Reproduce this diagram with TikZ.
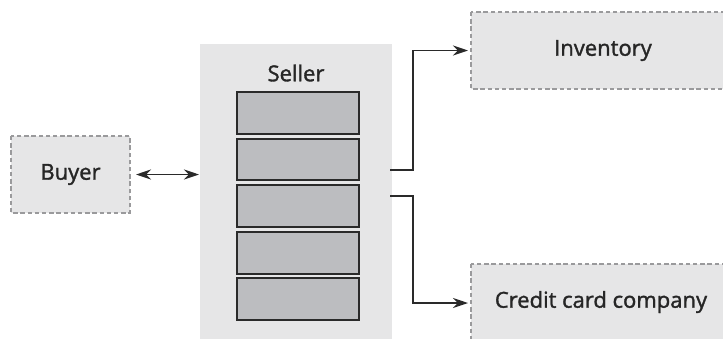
\documentclass[tikz,border=0pt]{standalone}
\usepackage{fontspec}
\setmainfont{Open Sans}
\newfontfamily\lblfont{Open Sans}[FakeBold=1.5]
\usetikzlibrary{arrows.meta}
\definecolor{boxfill}{HTML}{E6E6E7}
\definecolor{dashgray}{HTML}{9A9A9C}
\definecolor{innerfill}{HTML}{BCBDC0}
\definecolor{linedark}{HTML}{2A2A2A}
\tikzset{
  extbox/.style={draw=dashgray, fill=boxfill, dash pattern=on 2.2pt off 1.4pt, line width=0.55pt},
  innerbox/.style={draw=linedark, fill=innerfill, line width=1pt},
  conn/.style={draw=linedark, line width=0.95pt, -{Stealth[length=7.5pt,width=5pt]}},
  dconn/.style={draw=linedark, line width=0.95pt, {Stealth[length=7.5pt,width=5pt]}-{Stealth[length=7.5pt,width=5pt]}},
  lbl/.style={font=\lblfont\fontsize{11}{13}\selectfont, text=black!85}
}
\begin{document}
\begin{tikzpicture}[x=0.5pt,y=-0.5pt]
\clip (0,0) rectangle (723,338);
\fill[white] (0,0) rectangle (723,338);
% Buyer
\draw[extbox] (11,136) rectangle (130,213);
\node[lbl] (buyer) at (70.5,174.5) {Buyer};
\coordinate (buyerE) at (130,174.5);
% Seller
\fill[boxfill] (200,44) rectangle (392,345);
\node[lbl] (seller) at (296,73) {Seller};
\coordinate (sellerW) at (200,174.5);
\draw[innerbox] (237,92) rectangle (359,134);
\draw[innerbox] (237,139) rectangle (359,180);
\draw[innerbox] (237,185) rectangle (359,227);
\draw[innerbox] (237,232) rectangle (359,274);
\draw[innerbox] (237,278) rectangle (359,320);
% Inventory
\draw[extbox] (471,12) rectangle (730,89);
\node[lbl] (inv) at (603,50.5) {Inventory};
\coordinate (invW) at (468,50.5);
% Credit card company
\draw[extbox] (471,264) rectangle (730,345);
\node[lbl] (cc) at (601,302) {Credit card company};
\coordinate (ccW) at (468,303);
% connectors
\draw[dconn, shorten <=3pt, shorten >=0.5pt] (buyerE) -- (sellerW);
\coordinate (s1) at (390,170);
\coordinate (s2) at (390,196);
\draw[conn] (s1) -- (413,170) |- (invW);
\draw[conn] (s2) -- (413,196) |- (ccW);
\end{tikzpicture}
\end{document}
